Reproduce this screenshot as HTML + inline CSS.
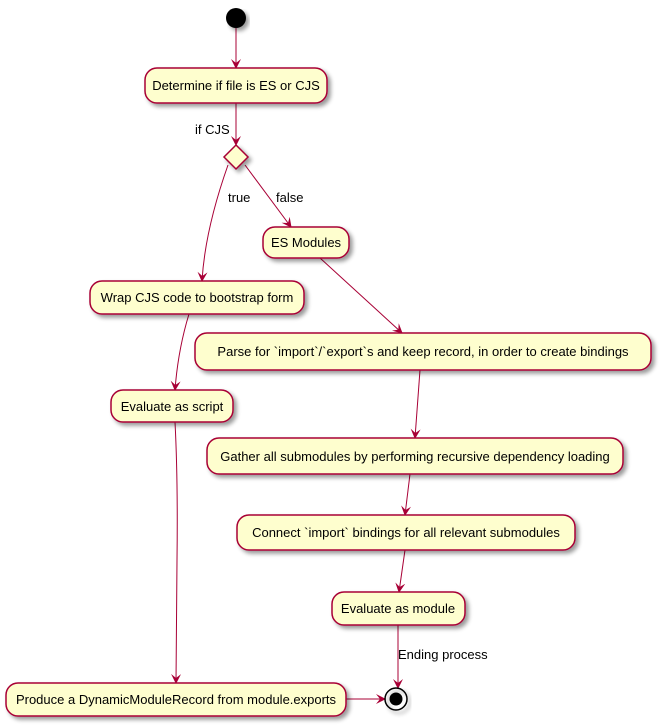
<!DOCTYPE html>
<html><head><meta charset="utf-8"><style>
html,body{margin:0;padding:0;background:#fff;}
svg{display:block;}
text{font-family:"Liberation Sans","DejaVu Sans",sans-serif;font-size:13px;fill:#000;}
</style></head><body>
<svg width="660" height="727" viewBox="0 0 660 727" xmlns="http://www.w3.org/2000/svg">
<defs>
<filter id="sh" x="-10%" y="-10%" width="130%" height="150%"><feGaussianBlur in="SourceAlpha" stdDeviation="2"/><feOffset dx="3" dy="3"/><feComponentTransfer><feFuncA type="linear" slope="0.4"/></feComponentTransfer><feMerge><feMergeNode/><feMergeNode in="SourceGraphic"/></feMerge></filter>
<marker id="ar" viewBox="0 0 10 10" refX="9" refY="5" markerWidth="10" markerHeight="10" markerUnits="userSpaceOnUse" orient="auto"><path d="M0,0 L10,5 L0,10 L4,5 Z" fill="#A80036"/></marker>
</defs>
<g fill="none" stroke="#A80036" stroke-width="1">
<path d="M236,28 L236,68" marker-end="url(#ar)"/>
<path d="M236,103 L236,145" marker-end="url(#ar)"/>
<path d="M228,165 Q205,230 202,281" marker-end="url(#ar)"/>
<path d="M245,165 L291,227" marker-end="url(#ar)"/>
<path d="M320,258 L402,333" marker-end="url(#ar)"/>
<path d="M189,314 Q178,350 175,390" marker-end="url(#ar)"/>
<path d="M420,370 L415,438" marker-end="url(#ar)"/>
<path d="M410,474 L405,515" marker-end="url(#ar)"/>
<path d="M405,550 L399,592" marker-end="url(#ar)"/>
<path d="M398,625 L398,688" marker-end="url(#ar)"/>
<path d="M175,422 Q178,480 177,560 L176,683" marker-end="url(#ar)"/>
<path d="M346,699 L385,699" marker-end="url(#ar)"/>
</g>
<circle cx="236" cy="18" r="10" fill="#000" filter="url(#sh)"/>
<g fill="#FEFECE" stroke="#A80036" stroke-width="1.5" filter="url(#sh)">
<rect x="145" y="68" width="182" height="35" rx="12"/>
<polygon points="236,145 248,157 236,169 224,157"/>
<rect x="263" y="227" width="86" height="31" rx="12"/>
<rect x="90" y="281" width="214" height="33" rx="12"/>
<rect x="195" y="333" width="456" height="37" rx="12"/>
<rect x="111" y="390" width="122" height="32" rx="12"/>
<rect x="207" y="438" width="416" height="36" rx="12"/>
<rect x="237" y="515" width="338" height="35" rx="12"/>
<rect x="332" y="592" width="133" height="33" rx="12"/>
<rect x="6" y="683" width="340" height="33" rx="12"/>
</g>
<circle cx="396" cy="699" r="11" fill="none" stroke="#000" stroke-width="1.5" filter="url(#sh)"/>
<circle cx="396" cy="699" r="6.5" fill="#000"/>
<g text-anchor="middle">
<text x="236" y="90">Determine if file is ES or CJS</text>
<text x="306" y="247">ES Modules</text>
<text x="197" y="302">Wrap CJS code to bootstrap form</text>
<text x="423" y="356">Parse for `import`/`export`s and keep record, in order to create bindings</text>
<text x="172" y="411">Evaluate as script</text>
<text x="415" y="461">Gather all submodules by performing recursive dependency loading</text>
<text x="406" y="537">Connect `import` bindings for all relevant submodules</text>
<text x="398" y="613">Evaluate as module</text>
<text x="176" y="704">Produce a DynamicModuleRecord from module.exports</text>
</g>
<text x="195" y="134">if CJS</text>
<text x="228" y="202">true</text>
<text x="276" y="202">false</text>
<text x="398" y="659">Ending process</text>
</svg>
</body></html>
